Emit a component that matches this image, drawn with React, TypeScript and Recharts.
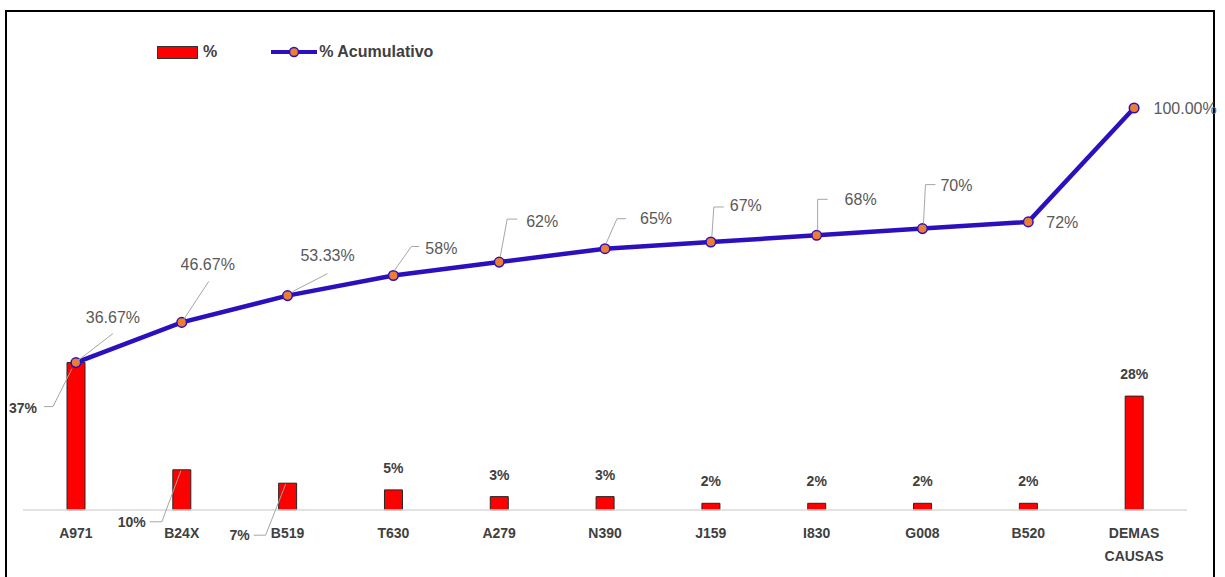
import { Bar, ComposedChart, LabelList, Legend, Line, XAxis, YAxis } from "recharts";

const categories = ["A971", "B24X", "B519", "T630", "A279", "N390", "J159", "I830", "G008", "B520", "DEMAS CAUSAS"];
const pctValues = [36.67, 10, 6.67, 5, 3.33, 3.33, 1.67, 1.67, 1.67, 1.67, 28.33];
const cumValues = [36.67, 46.67, 53.33, 58.33, 61.67, 65, 66.67, 68.33, 70, 71.67, 100];
const pctLabels = ["37%", "10%", "7%", "5%", "3%", "3%", "2%", "2%", "2%", "2%", "28%"];
const cumLabels = ["36.67%", "46.67%", "53.33%", "58%", "62%", "65%", "67%", "68%", "70%", "72%", "100.00%"];

const data = categories.map((name, i) => ({
  name,
  pct: pctValues[i],
  cum: cumValues[i],
}));

const LINE_COLOR = "#2B10BE";
const DOT_COLOR = "#ED7D31";
const TEXT_DARK = "#404040";
const TEXT_GRAY = "#595959";
const FONT = "'Liberation Sans', Arial, sans-serif";

// label placement for the cumulative line: text centre offset + leader polyline (relative to the point)
const cumLabelLayout: { dx: number; dy: number; leader?: number[][] }[] = [
  { dx: 37, dy: -45, leader: [[37, -29], [2, -2]] },
  { dx: 26, dy: -58, leader: [[27, -41], [2, -3]] },
  { dx: 40, dy: -40, leader: [[40, -22], [5, -4]] },
  { dx: 48, dy: -27, leader: [[1, -5], [18, -29], [26, -29]] },
  { dx: 43, dy: -41, leader: [[1, -5], [8, -43], [18, -43]] },
  { dx: 51, dy: -30, leader: [[1, -5], [12, -30], [21, -30]] },
  { dx: 35, dy: -36, leader: [[1, -5], [3, -35], [13, -35]] },
  { dx: 44, dy: -36, leader: [[1, -5], [1, -36], [11, -36]] },
  { dx: 34, dy: -43, leader: [[1, -5], [3, -44], [13, -44]] },
  { dx: 34, dy: 1 },
  { dx: 51, dy: 0 },
];

// bar labels: first three sit below/left with leaders, relative to bar top-centre
const barLabelLayout: Record<number, { dx: number; dy: number; leader: number[][] }> = {
  0: { dx: -53, dy: 45, leader: [[-32, 44], [-23, 44], [-4, 6]] },
  1: { dx: -50, dy: 52, leader: [[-32, 52], [-20, 52], [-1, 1]] },
  2: { dx: -48, dy: 52, leader: [[-34, 52], [-22, 52], [-2, 1]] },
};

function CumLabel(props: any) {
  const { x, y, index } = props;
  const l = cumLabelLayout[index];
  if (!l) return null;
  const pts = l.leader?.map(([a, b]) => `${x + a},${y + b}`).join(" ");
  return (
    <g>
      {pts && <polyline points={pts} fill="none" stroke="#A6A6A6" strokeWidth={1} />}
      <text
        x={x + l.dx}
        y={y + l.dy}
        textAnchor="middle"
        dominantBaseline="central"
        fontFamily={FONT}
        fontSize={16}
        fill={TEXT_GRAY}
      >
        {cumLabels[index]}
      </text>
    </g>
  );
}

function BarLabel(props: any) {
  const { x, y, width, index } = props;
  const cx = x + width / 2;
  const special = barLabelLayout[index];
  const dx = special ? special.dx : 0;
  const dy = special ? special.dy : -22;
  const pts = special?.leader.map(([a, b]) => `${cx + a},${y + b}`).join(" ");
  return (
    <g>
      {pts && <polyline points={pts} fill="none" stroke="#A6A6A6" strokeWidth={1} />}
      <text
        x={cx + dx}
        y={y + dy}
        textAnchor="middle"
        dominantBaseline="central"
        fontFamily={FONT}
        fontSize={14}
        fontWeight="bold"
        fill={TEXT_DARK}
      >
        {pctLabels[index]}
      </text>
    </g>
  );
}

function CategoryTick(props: any) {
  const { x, y, payload } = props;
  const words = String(payload.value) === "DEMAS CAUSAS" ? ["DEMAS", "CAUSAS"] : [payload.value];
  return (
    <text
      x={x}
      y={y}
      textAnchor="middle"
      fontFamily={FONT}
      fontSize={14}
      fontWeight="bold"
      fill={TEXT_DARK}
    >
      {words.map((w: string, i: number) => (
        <tspan key={w} x={x} dy={i === 0 ? 20 : 23}>
          {w}
        </tspan>
      ))}
    </text>
  );
}

function LegendContent() {
  const textStyle = { fontFamily: FONT, fontSize: 16, fontWeight: "bold" as const, color: TEXT_DARK };
  return (
    <div style={{ display: "flex", alignItems: "center", height: 18 }}>
      <div
        style={{
          width: 39,
          height: 11,
          background: "#FF0000",
          border: "1px solid #333",
          marginRight: 5,
        }}
      />
      <span style={textStyle}>%</span>
      <svg width={46} height={14} style={{ marginLeft: 54, marginRight: 2 }}>
        <line x1={0} y1={7} x2={46} y2={7} stroke={LINE_COLOR} strokeWidth={4} />
        <circle cx={23} cy={7} r={4.5} fill={DOT_COLOR} stroke={LINE_COLOR} strokeWidth={1.5} />
      </svg>
      <span style={textStyle}>% Acumulativo</span>
    </div>
  );
}

export default function App() {
  return (
    <div style={{ position: "absolute", left: 0, top: 0, width: 1225, height: 577, background: "#fff" }}>
      <div
        style={{
          position: "absolute",
          left: 5,
          top: 10,
          width: 1210,
          height: 580,
          border: "2px solid #000",
          boxSizing: "border-box",
        }}
      />
      <div style={{ position: "absolute", left: 0, top: 0 }}>
        <ComposedChart width={1225} height={577} data={data} margin={{ top: 108, right: 38, left: 23, bottom: 17 }}>
          <XAxis
            dataKey="name"
            height={50}
            tick={<CategoryTick />}
            tickLine={false}
            axisLine={{ stroke: "#D9D9D9", strokeWidth: 1.5 }}
            interval={0}
          />
          <YAxis hide domain={[0, 100]} />
          <Legend
            layout="horizontal"
            verticalAlign="middle"
            align="center"
            content={<LegendContent />}
            wrapperStyle={{ position: "absolute", left: 157, top: 43, width: "auto", height: "auto" }}
          />
          <Bar dataKey="pct" name="%" barSize={18} fill="#FF0000" stroke="#262626" strokeWidth={1} isAnimationActive={false}>
            <LabelList dataKey="pct" content={<BarLabel />} />
          </Bar>
          <Line
            type="linear"
            dataKey="cum"
            name="% Acumulativo"
            stroke={LINE_COLOR}
            strokeWidth={4.5}
            dot={{ r: 4.8, fill: DOT_COLOR, stroke: LINE_COLOR, strokeWidth: 1.5 }}
            activeDot={false}
            isAnimationActive={false}
          >
            <LabelList dataKey="cum" content={<CumLabel />} />
          </Line>
        </ComposedChart>
      </div>
    </div>
  );
}
